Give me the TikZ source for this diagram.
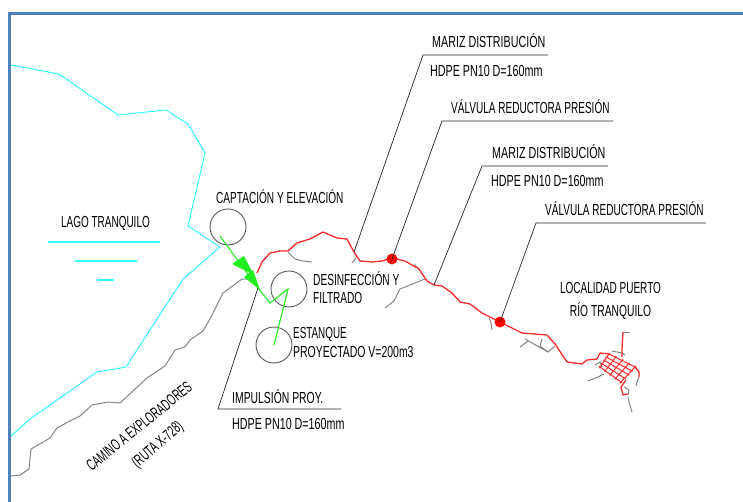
\documentclass[tikz,border=0pt]{standalone}
\usepackage{fontspec}
\setmainfont{Liberation Sans}[FakeStretch=0.67]
\usetikzlibrary{calc}
\definecolor{framec}{HTML}{4F81BD}
\definecolor{lakec}{HTML}{33FFFF}
\definecolor{roadc}{HTML}{858585}
\definecolor{pipec}{HTML}{FF2A2A}
\definecolor{pumpc}{HTML}{22EE22}
\tikzset{
  lbl/.style={anchor=west,inner sep=0pt,text height=11.5pt,text depth=0pt,font=\fontsize{16}{18}\selectfont,text=black},
  lblc/.style={lbl,anchor=center},
  sq/.style={xscale=#1,transform shape},
  site/.style={circle,draw=black!65,line width=0.9pt,minimum size=36pt,inner sep=0pt},
  valve/.style={circle,fill=red,minimum size=11pt,inner sep=0pt},
  frameline/.style={framec,line width=3pt},
  lake/.style={lakec,line width=1pt},
  lakemark/.style={lakec,line width=1.5pt},
  road/.style={roadc,line width=1pt,line join=round},
  pipe/.style={pipec,line width=1.3pt,line join=round},
  grid/.style={pipec,line width=1pt},
  pump/.style={pumpc,line width=1.1pt},
  head/.style={fill=pumpc,draw=none},
  leader/.style={black!85,line width=0.7pt}
}
\begin{document}
\begin{tikzpicture}[x=1pt,y=-1pt]
\useasboundingbox (0,0) rectangle (743,502);
\fill[white] (0,0) rectangle (743,502);
% frame
\draw[frameline] (9.5,502) -- (9.5,14) -- (743,14);
% lake shore
\draw[lake] (11,65) -- (59,74) -- (118,115) -- (166,110) -- (188,124) -- (205,153) -- (188,226) -- (220,247) -- (183,279) -- (126,367) -- (97,372) -- (30,419) -- (11,436);
\draw[lakemark] (48,242) -- (160,242);
\draw[lakemark] (75,261) -- (137,261);
\draw[lakemark] (97,280) -- (114,280);
% road
\draw[road] (11,476) -- (20,475) -- (29,469) -- (31,449) -- (50,438) -- (57,428) -- (68,422) -- (80,416) -- (92,405) -- (108,402) -- (120,403) -- (133,391) -- (147,378) -- (165,366) -- (175,350) -- (185,347) -- (190,340) -- (203,331) -- (210,319) -- (223,293) -- (242,279) -- (250,279);
\draw[road] (288,252) -- (295,259) -- (303,261) -- (312,262);
\draw[road] (352,263) -- (356,258);
\draw[road] (425,279) -- (415,283) -- (400,289) -- (394,301) -- (385,308);
\draw[road] (414,264) -- (418,268);
\draw[road] (489,318) -- (491,323) -- (492,330);
\draw[road] (555,346) -- (548,352) -- (525,339);
\draw[road] (528,341) -- (520,347);
\draw[road] (542,339) -- (540,346) -- (548,352);
\draw[road] (612,351) -- (622,353) -- (625,355);
\draw[road] (623,332) -- (630,332);
\draw[road] (639,377) -- (637,382) -- (636,386);
\draw[road] (595,365) -- (600,362) -- (602,367);
\draw[road] (588,381) -- (600,376) -- (604,374);
\draw[road] (624,387) -- (629,390) -- (628,395);
\draw[road] (628,397) -- (629,402) -- (632,412);
% main red pipe
\draw[pipe] (257,273) -- (262,262) -- (270,253) -- (280,251) -- (288,251) -- (297,243) -- (310,239) -- (323,232) -- (337,238) -- (347,239) -- (354,252) -- (360,261) -- (372,262) -- (382,261) -- (392,258) -- (405,261) -- (419,269) -- (427,281) -- (434,285) -- (442,286) -- (452,293) -- (460,302) -- (470,304) -- (482,313) -- (500,322) -- (522,333) -- (547,335) -- (555,344) -- (567,362) -- (582,364) -- (587,360) -- (597,359) -- (600,353) -- (609,354);
% town grid
\coordinate (gt) at (609,354);
\coordinate (gr) at (635,367);
\coordinate (gb) at (621,382);
\coordinate (gl) at (600,367);
\foreach \t in {0,0.25,0.5,0.75,1} {
  \draw[grid] ($ ($(gt)!\t!(gl)$)!-0.05!($(gr)!\t!(gb)$) $) -- ($ ($(gt)!\t!(gl)$)!1.05!($(gr)!\t!(gb)$) $);
  \draw[grid] ($ ($(gt)!\t!(gr)$)!-0.08!($(gl)!\t!(gb)$) $) -- ($ ($(gt)!\t!(gr)$)!1.08!($(gl)!\t!(gb)$) $);
}
\draw[pipe] (622,357) -- (622,348) -- (623,332);
\draw[pipe] (635,367) -- (639,372) -- (639,377);
\draw[pipe] (626,380) -- (621,387) -- (623,395) -- (628,394);
% sites
\node[site] (captacion) at (228,227) {};
\node[site] (desinfeccion) at (289,289) {};
\node[site] (estanque) at (274,345) {};
% pump line
\coordinate (pstart) at (220,236);
\coordinate (pknee) at (258,288);
\coordinate (plow) at (270,303);
\coordinate (ptop) at (288,289);
\coordinate (pend) at (274,345);
\draw[pump] (pstart) -- (pknee) -- (plow) -- (ptop) -- (pend);
\fill[head] (254,275) -- (232,264) -- (244,256) -- cycle;
\fill[head] (260,290) -- (244,277) -- (253,270) -- cycle;
% valves
\node[valve] (v1) at (392,259) {};
\node[valve] (v2) at (500,322) {};
% labels
\node[lbl] (t1) at (432,42) {MARIZ DISTRIBUCIÓN};
\node[lbl] (t2) at (430,71) {HDPE PN10 D=160mm};
\node[lbl,sq=0.935] (t3) at (451,108) {VÁLVULA REDUCTORA PRESIÓN};
\node[lbl] (t4) at (492,153) {MARIZ DISTRIBUCIÓN};
\node[lbl] (t5) at (491,181) {HDPE PN10 D=160mm};
\node[lbl,sq=0.935] (t6) at (545,210) {VÁLVULA REDUCTORA PRESIÓN};
\node[lbl,sq=0.94] (t7) at (216,198) {CAPTACIÓN Y ELEVACIÓN};
\node[lbl,sq=0.93] (t8) at (61,222) {LAGO TRANQUILO};
\node[lbl,sq=0.945] (t9) at (313,280) {DESINFECCIÓN Y};
\node[lbl,sq=0.94] (t10) at (313,298) {FILTRADO};
\node[lbl,sq=0.92] (t11) at (293,333) {ESTANQUE};
\node[lbl,sq=0.975] (t12) at (293,352) {PROYECTADO V=200m3};
\node[lbl,sq=0.97] (t13) at (232,398) {IMPULSIÓN PROY.};
\node[lbl] (t14) at (232,424) {HDPE PN10 D=160mm};
\node[lblc,sq=0.935] (t15) at (610.5,288) {LOCALIDAD PUERTO};
\node[lblc,sq=0.96] (t16) at (610.5,311) {RÍO TRANQUILO};
\node[lblc,rotate=39,sq=0.9] (t17) at (139,426) {CAMINO A EXPLORADORES};
\node[lblc,rotate=41,sq=0.92] (t18) at (157,444) {(RUTA X-728)};
% leaders
\coordinate (a1) at (354,252); \coordinate (b1) at (423,55); \coordinate (c1) at (548,55);
\coordinate (b2) at (442,121); \coordinate (c2) at (613,121);
\coordinate (a3) at (434,285); \coordinate (b3) at (482,166); \coordinate (c3) at (608,166);
\coordinate (b4) at (536,223); \coordinate (c4) at (706,223);
\coordinate (b5) at (218,409); \coordinate (c5) at (341,409);
\draw[leader] (a1) -- (b1) -- (c1);
\draw[leader] (v1.center) -- (b2) -- (c2);
\draw[leader] (a3) -- (b3) -- (c3);
\draw[leader] (v2.center) -- (b4) -- (c4);
\draw[leader] (pknee) -- (b5) -- (c5);
\end{tikzpicture}
\end{document}
